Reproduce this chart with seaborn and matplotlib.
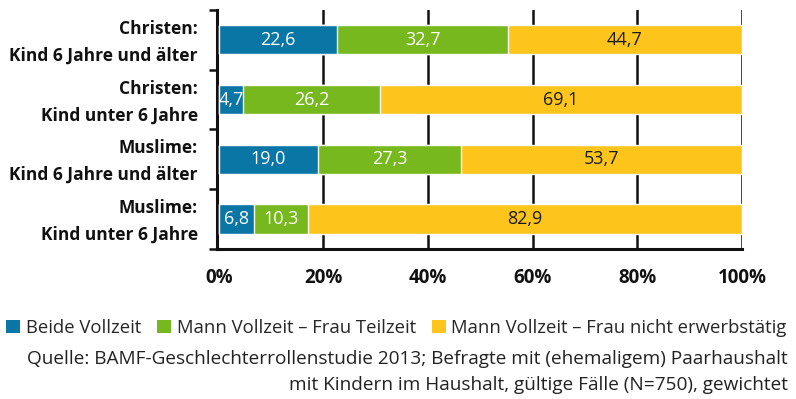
import matplotlib
matplotlib.use("Agg")
import matplotlib.pyplot as plt
import matplotlib.transforms as mtransforms
import seaborn as sns
import pandas as pd
import numpy as np
from matplotlib.patches import Patch

categories = [
    "Christen:\nKind 6 Jahre und älter",
    "Christen:\nKind unter 6 Jahre",
    "Muslime:\nKind 6 Jahre und älter",
    "Muslime:\nKind unter 6 Jahre",
]
beide_vollzeit = [22.6, 4.7, 19.0, 6.8]
mann_voll_frau_teil = [32.7, 26.2, 27.3, 10.3]
mann_voll_frau_nicht = [44.7, 69.1, 53.7, 82.9]
series_names = [
    "Beide Vollzeit",
    "Mann Vollzeit – Frau Teilzeit",
    "Mann Vollzeit – Frau nicht erwerbstätig",
]
tick_values = [0, 20, 40, 60, 80, 100]
tick_labels = ["0%", "20%", "40%", "60%", "80%", "100%"]
source_text = ("Quelle: BAMF-Geschlechterrollenstudie 2013; Befragte mit (ehemaligem) Paarhaushalt\n"
               "mit Kindern im Haushalt, gültige Fälle (N=750), gewichtet")

colors = ["#0A76A6", "#76B81D", "#FDC51C"]
text_colors = ["white", "white", "#1a1a1a"]

sns.set_theme(style="white")
plt.rcParams["font.family"] = ["Open Sans", "DejaVu Sans"]

series = [beide_vollzeit, mann_voll_frau_teil, mann_voll_frau_nicht]
cum = np.cumsum(np.array(series), axis=0)

fig = plt.figure(figsize=(7.96, 3.99), dpi=100)
ax = fig.add_axes([0.273, 0.376, 0.659, 0.599])

# vertical grid lines behind bars
for t in tick_values[1:]:
    ax.axvline(t, color="#111111", lw=1.8, zorder=0)

# stacked bars: draw cumulative totals, largest first
for i in reversed(range(3)):
    d = pd.DataFrame({"Kategorie": categories, "wert": cum[i]})
    sns.barplot(data=d, y="Kategorie", x="wert", color=colors[i], orient="h",
                width=0.49, saturation=1, ax=ax, zorder=2 + (2 - i))

# value labels centered in each segment
for i in range(3):
    starts = cum[i] - np.array(series[i])
    for j, v in enumerate(series[i]):
        ax.text(starts[j] + v / 2, j, f"{v:.1f}".replace(".", ","),
                ha="center", va="center", color=text_colors[i], fontsize=13, zorder=10)

ax.set_xlim(-0.3, 100)
ax.set_ylim(3.5, -0.5)
ax.set_xlabel("")
ax.set_ylabel("")
ax.set_xticks(tick_values)
ax.set_xticklabels(tick_labels, fontsize=13.5, fontweight="bold", color="#111111")
ax.set_yticks(range(len(categories)))
ax.set_yticklabels(categories, fontsize=12.5, fontweight="bold", color="#111111",
                   linespacing=1.62)
ax.tick_params(axis="y", length=0, pad=14)
ax.tick_params(axis="x", length=5, width=1.8, color="#111111", pad=9, direction="out")

# lift the two-line category labels slightly so they sit centred on the bars
lift = mtransforms.ScaledTranslation(0, 4 / 100, fig.dpi_scale_trans)
for lab in ax.get_yticklabels():
    lab.set_transform(lab.get_transform() + lift)

# ticks on category boundaries
ax.set_yticks([-0.5, 0.5, 1.5, 2.5, 3.5], minor=True)
ax.tick_params(axis="y", which="minor", length=6, width=1.8, color="#111111", left=True)

for s in ["top", "right"]:
    ax.spines[s].set_visible(False)
for s in ["left", "bottom"]:
    ax.spines[s].set_color("#111111")
    ax.spines[s].set_linewidth(2.2)

handles = [Patch(facecolor=c, edgecolor="none") for c in colors]
fig.legend(handles, series_names, loc="upper left", bbox_to_anchor=(0.008, 0.2),
           ncol=3, frameon=False, fontsize=13.3, handlelength=0.75, handleheight=0.72,
           handletextpad=0.32, columnspacing=0.85, borderaxespad=0, borderpad=0)

fig.text(0.990, 0.012, source_text, ha="right", va="bottom", fontsize=13.7,
         color="#222222", linespacing=1.6)

fig.savefig("out.png", dpi=100)
